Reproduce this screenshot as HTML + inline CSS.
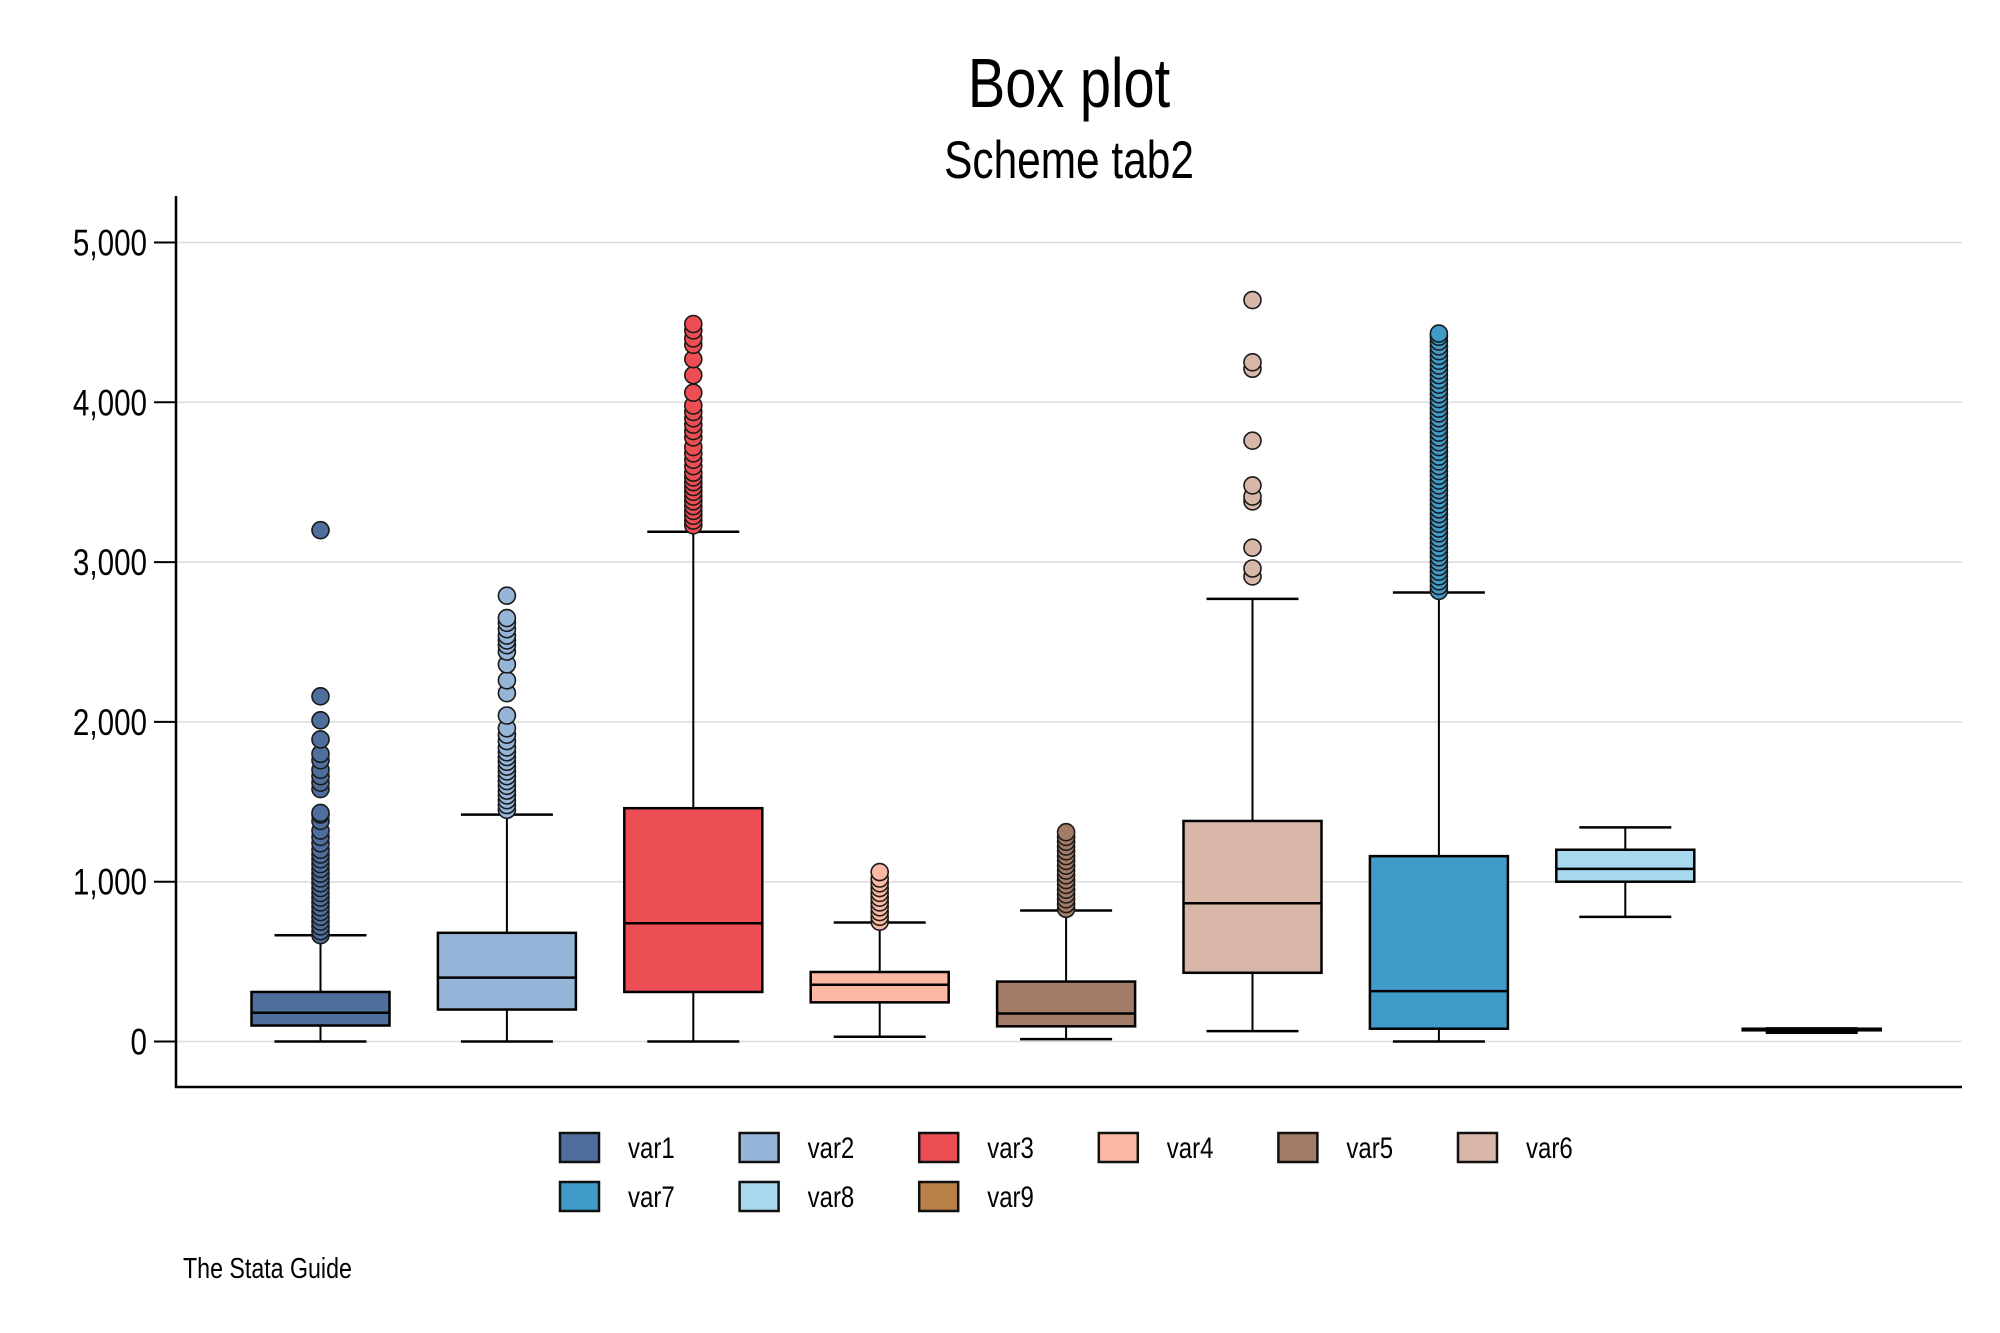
<!DOCTYPE html>
<html><head><meta charset="utf-8"><style>
html,body{margin:0;padding:0;background:#fff;}
svg{display:block;}
text{font-family:"Liberation Sans",sans-serif;fill:#000;}
</style></head><body>
<svg id="chart" width="2000" height="1333" viewBox="0 0 2000 1333">
<text transform="translate(1069,107) scale(0.8,1)" font-size="70" text-anchor="middle">Box plot</text>
<text transform="translate(1069,178) scale(0.8,1)" font-size="53" text-anchor="middle">Scheme tab2</text>
<text transform="translate(183,1278) scale(0.8,1)" font-size="29">The Stata Guide</text>
<g id="grid"></g><g id="boxes"></g><g id="axes"></g><g id="legend"></g>
</svg>
<script>
const categories=["var1","var2","var3","var4","var5","var6","var7","var8","var9"];
const colors=["#4e6f9e","#95b5d9","#ec4e53","#fdb8a3","#a27c66","#d8b7a8","#419bc9","#a7d8ef","#b9814a"];
const lowerWhisker=[0,0,0,30,15,65,0,780,55];
const q1=[100,200,310,245,95,430,80,1000,70];
const median=[180,400,740,355,175,865,315,1080,75];
const q3=[310,680,1460,435,375,1380,1160,1200,80];
const upperWhisker=[665,1420,3190,745,820,2770,2810,1340,82];
const outliers1=[665,690,720,750,780,810,840,870,900,930,960,990,1020,1050,1080,1110,1140,1170,1200,1240,1280,1320,1380,1420,1430,1580,1620,1660,1700,1760,1800,1890,2010,2160,3200];
const outliers2=[1450,1480,1510,1540,1570,1600,1630,1660,1690,1720,1750,1780,1810,1840,1880,1920,1960,2040,2180,2260,2360,2440,2480,2510,2540,2580,2620,2650,2790];
const outliers3=[3230,3260,3290,3320,3350,3380,3410,3440,3470,3500,3530,3560,3600,3640,3680,3720,3780,3820,3860,3900,3940,3980,4060,4170,4270,4360,4400,4450,4490];
const outliers4=[750,780,810,840,870,900,930,960,990,1020,1060];
const outliers5=[830,860,890,920,950,980,1010,1040,1070,1100,1130,1160,1190,1220,1250,1280,1310];
const outliers6=[2910,2960,3090,3380,3410,3480,3760,4210,4250,4640];
const outliers7=[2820,2850,2880,2910,2940,2970,3000,3030,3060,3090,3120,3150,3180,3210,3240,3270,3300,3330,3360,3390,3420,3450,3480,3510,3540,3570,3600,3630,3660,3690,3720,3750,3780,3810,3840,3870,3900,3930,3960,3990,4020,4050,4080,4110,4140,4170,4200,4230,4260,4290,4320,4350,4380,4410,4430];
const outliers8=[];
const outliers9=[];
const outliers=[outliers1,outliers2,outliers3,outliers4,outliers5,outliers6,outliers7,outliers8,outliers9];
const yTicks=[0,1000,2000,3000,4000,5000];
const yTickLabels=["0","1,000","2,000","3,000","4,000","5,000"];

const NS="http://www.w3.org/2000/svg";
const X0=176,X1=1962,Y0=1041.5,PX=159.8;
function y(v){return Y0-v*PX/1000;}
function x(i){return 320.5+i*186.4;}
function mk(tag,attrs,parent){const e=document.createElementNS(NS,tag);for(const k in attrs)e.setAttribute(k,attrs[k]);parent.appendChild(e);return e;}
const grid=document.getElementById('grid'),axes=document.getElementById('axes'),boxes=document.getElementById('boxes'),legend=document.getElementById('legend');
yTicks.forEach((t,i)=>{
  const g=mk('line',{x1:X0,x2:X1,y1:y(t),y2:y(t),stroke:'#dcdcdc','stroke-width':1.5},grid);
  
  
  const tk=mk('line',{x1:154,x2:X0,y1:y(t),y2:y(t),stroke:'#000','stroke-width':2},axes);
  
  
  const lb=mk('text',{transform:'translate(147,'+(y(t)+13)+') scale(0.8,1)','font-size':37,'text-anchor':'end'},axes);
  lb.textContent=yTickLabels[i];
  
  
});
const ya=mk('line',{x1:X0,x2:X0,y1:196,y2:1088,stroke:'#000','stroke-width':2.5},axes);


const xa=mk('line',{x1:X0-1,x2:X1,y1:1087,y2:1087,stroke:'#000','stroke-width':2.5},axes);


const BW=138,CW=92;
categories.forEach((c,i)=>{
  const g=mk('g',{},boxes);
  
  
  const cx=x(i),col=colors[i];
  mk('line',{x1:cx,x2:cx,y1:y(upperWhisker[i]),y2:y(q3[i]),stroke:'#000','stroke-width':2},g);
  mk('line',{x1:cx,x2:cx,y1:y(q1[i]),y2:y(lowerWhisker[i]),stroke:'#000','stroke-width':2},g);
  mk('line',{x1:cx-CW/2,x2:cx+CW/2,y1:y(upperWhisker[i]),y2:y(upperWhisker[i]),stroke:'#000','stroke-width':2.5},g);
  mk('line',{x1:cx-CW/2,x2:cx+CW/2,y1:y(lowerWhisker[i]),y2:y(lowerWhisker[i]),stroke:'#000','stroke-width':2.5},g);
  mk('rect',{x:cx-BW/2,y:y(q3[i]),width:BW,height:Math.max(1,y(q1[i])-y(q3[i])),fill:col,stroke:'#000','stroke-width':2.5},g);
  mk('line',{x1:cx-BW/2,x2:cx+BW/2,y1:y(median[i]),y2:y(median[i]),stroke:'#000','stroke-width':2.5},g);
  outliers[i].forEach(v=>{
    const o=mk('circle',{cx:cx,cy:y(v),r:8.5,fill:col,stroke:'#1a1a1a','stroke-width':1.6},g);
    
    
  });
});
categories.forEach((c,i)=>{
  const col=i%6,row=Math.floor(i/6);
  const lx=560+col*179.6,ly=1133+row*49;
  const g=mk('g',{},legend);
  
  
  mk('rect',{x:lx,y:ly,width:39,height:29,fill:colors[i],stroke:'#111','stroke-width':2.5},g);
  const t=mk('text',{transform:'translate('+(lx+68)+','+(ly+25)+') scale(0.8,1)','font-size':30},g);
  t.textContent=c;
});
</script>
</body></html>
